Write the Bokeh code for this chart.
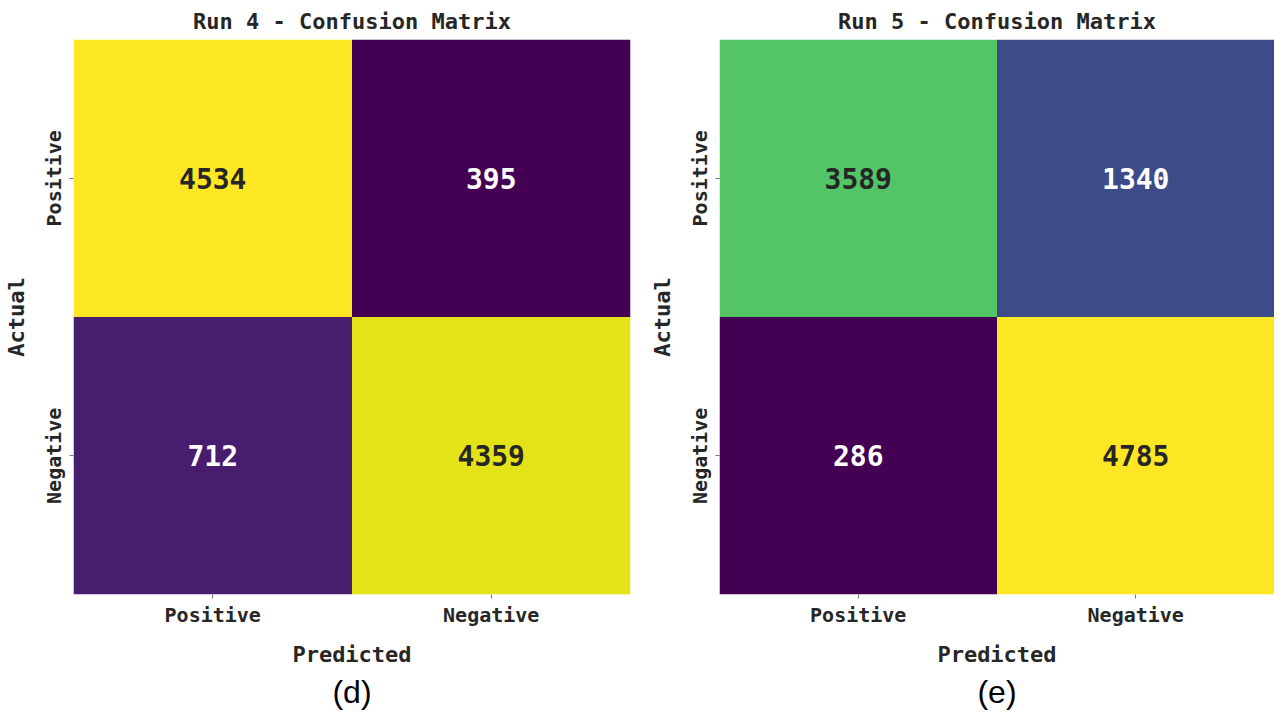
from bokeh.plotting import figure
from bokeh.layouts import row
from bokeh.models import ColumnDataSource, Title, LinearColorMapper
from bokeh.palettes import Viridis256
from bokeh.core.properties import value
from bokeh.embed import file_html
from bokeh.resources import INLINE

# ---- data ----
titles = ["Run 4 - Confusion Matrix", "Run 5 - Confusion Matrix"]
captions = ["(d)", "(e)"]
predicted_labels = ["Positive", "Negative"]
actual_labels = ["Positive", "Negative"]
run4_values = [[4534, 395], [712, 4359]]   # rows: actual, cols: predicted
run5_values = [[3589, 1340], [286, 4785]]

MONO = "DejaVu Sans Mono"
DARK = "#262626"


def make_fig(title, values, caption, frame_w, border_left, border_right):
    xs, ys, vs, txt, tcol = [], [], [], [], []
    flat = [v for r in values for v in r]
    lo, hi = min(flat), max(flat)
    for i, a in enumerate(actual_labels):
        for j, pr in enumerate(predicted_labels):
            v = values[i][j]
            xs.append(pr)
            ys.append(a)
            vs.append(v)
            txt.append(str(v))
            tcol.append(DARK if (v - lo) / (hi - lo) > 0.5 else "white")
    src = ColumnDataSource(dict(x=xs, y=ys, v=vs, t=txt, c=tcol))
    mapper = LinearColorMapper(palette=Viridis256, low=lo, high=hi)

    p = figure(x_range=predicted_labels, y_range=list(reversed(actual_labels)),
               frame_width=frame_w, frame_height=555,
               output_backend="svg", toolbar_location=None,
               min_border_left=border_left, min_border_right=border_right,
               min_border_top=32, min_border_bottom=10)
    p.rect(x="x", y="y", width=1, height=1, source=src,
           fill_color={"field": "v", "transform": mapper}, line_color=None)
    p.text(x="x", y="y", text="t", source=src, text_color="c",
           text_align="center", text_baseline="middle",
           text_font=value(MONO), text_font_size="28px", text_font_style="bold")

    p.title.text = title
    p.title.align = "center"
    p.title.text_font = MONO
    p.title.text_font_size = "22px"
    p.title.text_font_style = "bold"
    p.title.text_color = DARK
    p.title.standoff = 12

    p.outline_line_color = None
    p.grid.grid_line_color = None
    for ax in (p.xaxis, p.yaxis):
        ax.axis_line_color = None
        ax.major_tick_in = 0
        ax.major_tick_out = 4
        ax.major_tick_line_color = "#777777"
        ax.minor_tick_line_color = None
        ax.major_label_text_font = MONO
        ax.major_label_text_font_size = "20px"
        ax.major_label_text_font_style = "bold"
        ax.major_label_text_color = DARK
        ax.axis_label_text_font = MONO
        ax.axis_label_text_font_size = "22px"
        ax.axis_label_text_font_style = "bold"
        ax.axis_label_text_color = DARK
        ax.major_label_standoff = 4
    p.xaxis.axis_label = "Predicted"
    p.xaxis.axis_label_standoff = 12
    p.yaxis.axis_label = "Actual"
    p.yaxis.axis_label_standoff = 10
    p.yaxis.major_label_orientation = "vertical"

    cap = Title(text=caption, align="center", text_font="Liberation Sans",
                text_font_size="32px", text_font_style="normal", text_color="black",
                standoff=4)
    p.add_layout(cap, "below")
    return p


p1 = make_fig(titles[0], run4_values, captions[0], 557, 67, 16)
p2 = make_fig(titles[1], run5_values, captions[1], 555, 71, 0)
layout = row(p1, p2)

open("out.html", "w").write(file_html(layout, INLINE))
